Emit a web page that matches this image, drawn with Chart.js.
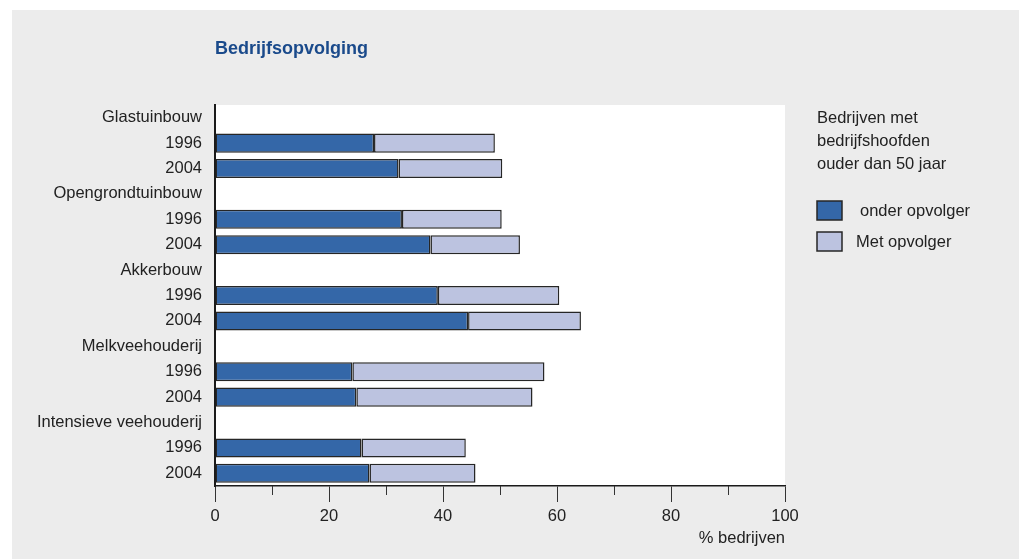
<!DOCTYPE html>
<html>
<head>
<meta charset="utf-8">
<script src="https://cdn.jsdelivr.net/npm/chart.js@4.4.0/dist/chart.umd.min.js"></script>
<style>
  html, body { margin: 0; padding: 0; background: #ffffff; }
  #wrap { width: 1019px; height: 559px; position: relative; }
</style>
</head>
<body>
<div id="wrap"><canvas id="c" width="1019" height="559"></canvas></div>
<script>
const categories = ['Glastuinbouw', '1996', '2004', 'Opengrondtuinbouw', '1996', '2004', 'Akkerbouw', '1996', '2004', 'Melkveehouderij', '1996', '2004', 'Intensieve veehouderij', '1996', '2004'];
const zonderOpvolger = [null, 27.9, 32.2, null, 32.8, 37.8, null, 39.1, 44.4, null, 24.1, 24.8, null, 25.7, 27.1];
const metOpvolger = [null, 21.2, 18.2, null, 17.5, 15.7, null, 21.3, 19.8, null, 33.7, 30.9, null, 18.3, 18.6];
const seriesNames = [' onder opvolger', 'Met opvolger'];
const xTicks = [0, 20, 40, 60, 80, 100];
const minorTicks = [10, 30, 50, 70, 90];
const chartTitle = 'Bedrijfsopvolging';
const legendTitle = ['Bedrijven met', 'bedrijfshoofden', 'ouder dan 50 jaar'];
const axisTitle = '% bedrijven';

const DARK = '#3467a8';
const LIGHT = '#bcc3e0';
const EDGE = '#262626';
const TEXT = '#222222';
const FONT = "'Liberation Sans', Arial, sans-serif";
const FS = 16.5;

const decor = {
  id: 'decor',
  beforeDraw(chart) {
    const ctx = chart.ctx;
    const a = chart.chartArea;
    ctx.save();
    ctx.fillStyle = '#ffffff';
    ctx.fillRect(0, 0, chart.width, chart.height);
    ctx.fillStyle = '#ececec';
    ctx.fillRect(12, 10, chart.width - 12, chart.height - 10);
    ctx.fillStyle = '#ffffff';
    ctx.fillRect(a.left, a.top, a.right - a.left, a.bottom - a.top);
    ctx.restore();
  },
  afterDraw(chart) {
    const ctx = chart.ctx;
    const a = chart.chartArea;
    const xs = chart.scales.x;
    ctx.save();
    ctx.strokeStyle = '#333333';
    ctx.lineWidth = 1;
    minorTicks.forEach(v => {
      const px = Math.round(xs.getPixelForValue(v)) + 0.5;
      ctx.beginPath();
      ctx.moveTo(px, a.bottom);
      ctx.lineTo(px, a.bottom + 9);
      ctx.stroke();
    });
    ctx.fillStyle = '#1a4a8b';
    ctx.font = "bold 18px " + FONT;
    ctx.textBaseline = 'middle';
    ctx.textAlign = 'left';
    ctx.fillText(chartTitle, a.left, 49);
    const lx = 817;
    ctx.fillStyle = TEXT;
    ctx.font = FS + "px " + FONT;
    legendTitle.forEach((t, i) => ctx.fillText(t, lx, 118 + i * 23.3));
    const items = [
      {color: DARK, y: 201, tx: 860},
      {color: LIGHT, y: 232, tx: 856}
    ];
    items.forEach((it, i) => {
      ctx.fillStyle = it.color;
      ctx.fillRect(lx, it.y, 25, 19);
      ctx.strokeStyle = EDGE;
      ctx.lineWidth = 1.5;
      ctx.strokeRect(lx, it.y, 25, 19);
      ctx.fillStyle = TEXT;
      ctx.fillText(seriesNames[i].trim(), it.tx, it.y + 10);
    });
    ctx.restore();
  }
};

new Chart(document.getElementById('c'), {
  type: 'bar',
  data: {
    labels: categories,
    datasets: [
      {label: seriesNames[0], data: zonderOpvolger, backgroundColor: DARK, borderColor: EDGE, borderWidth: 1.5, borderSkipped: false},
      {label: seriesNames[1], data: metOpvolger, backgroundColor: LIGHT, borderColor: EDGE, borderWidth: 1.5, borderSkipped: false}
    ]
  },
  options: {
    indexAxis: 'y',
    responsive: false,
    animation: false,
    devicePixelRatio: 1,
    barPercentage: 0.75,
    categoryPercentage: 1,
    layout: {padding: {top: 105, right: 234, left: 0, bottom: 0}},
    plugins: {legend: {display: false}, tooltip: {enabled: false}, title: {display: false}},
    scales: {
      y: {
        stacked: true,
        grid: {display: false, drawTicks: false},
        border: {display: true, color: '#1a1a1a', width: 2},
        ticks: {color: TEXT, font: {family: FONT, size: FS}, padding: 13, autoSkip: false},
        afterFit(s) { s.width = 215; }
      },
      x: {
        stacked: true,
        min: 0, max: 100,
        afterBuildTicks(s) { s.ticks = xTicks.map(v => ({value: v})); },
        grid: {display: true, drawOnChartArea: false, drawTicks: true, tickLength: 16, color: '#333333'},
        border: {display: true, color: '#1a1a1a', width: 1.5},
        ticks: {color: TEXT, font: {family: FONT, size: FS}, padding: 5},
        title: {display: true, text: axisTitle, align: 'end', color: TEXT, font: {family: FONT, size: FS}, padding: {top: 0, bottom: 11}},
        afterFit(s) { s.height = 73; }
      }
    }
  },
  plugins: [decor]
});
</script>
</body>
</html>
